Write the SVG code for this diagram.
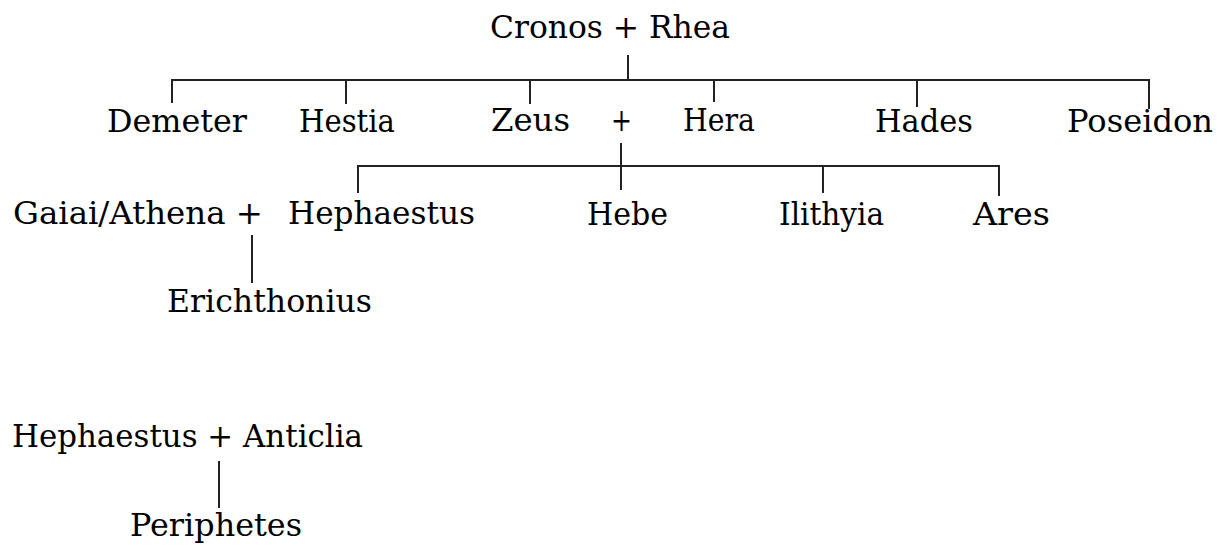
<svg xmlns="http://www.w3.org/2000/svg" width="1227" height="548" viewBox="0 0 1227 548">
<style>
text{font-family:"DejaVu Serif","Liberation Serif",serif;font-size:31px;fill:#000}
.c line{stroke:#222;stroke-width:2;stroke-linecap:butt}
</style>
<rect width="1227" height="548" fill="#fff"/>
<g class="c" id="connectors">
<line x1="628" y1="55" x2="628" y2="80"/>
<line x1="171" y1="80" x2="1150" y2="80"/>
<line x1="172" y1="80" x2="172" y2="103"/>
<line x1="346" y1="80" x2="346" y2="104"/>
<line x1="530" y1="80" x2="530" y2="104"/>
<line x1="714" y1="80" x2="714" y2="102"/>
<line x1="917" y1="80" x2="917" y2="107"/>
<line x1="1149" y1="80" x2="1149" y2="109"/>
<line x1="621" y1="143" x2="621" y2="190"/>
<line x1="357" y1="166" x2="1000" y2="166"/>
<line x1="358" y1="166" x2="358" y2="193"/>
<line x1="823" y1="166" x2="823" y2="193"/>
<line x1="999" y1="166" x2="999" y2="196"/>
<line x1="252" y1="235" x2="252" y2="283"/>
<line x1="219" y1="461" x2="219" y2="508"/>
</g>
<g id="cronos-rhea"><text x="490" y="38" textLength="240" lengthAdjust="spacingAndGlyphs">Cronos + Rhea</text></g>
<g id="demeter"><text x="107" y="132" textLength="140" lengthAdjust="spacingAndGlyphs">Demeter</text></g>
<g id="hestia"><text x="299" y="132" textLength="96" lengthAdjust="spacingAndGlyphs">Hestia</text></g>
<g id="zeus"><text x="491" y="131" textLength="79" lengthAdjust="spacingAndGlyphs">Zeus</text></g>
<g id="zeus-hera-plus"><text x="611" y="131" textLength="21" lengthAdjust="spacingAndGlyphs">+</text></g>
<g id="hera"><text x="683" y="131" textLength="72" lengthAdjust="spacingAndGlyphs">Hera</text></g>
<g id="hades"><text x="875" y="132" textLength="98" lengthAdjust="spacingAndGlyphs">Hades</text></g>
<g id="poseidon"><text x="1067" y="132" textLength="146" lengthAdjust="spacingAndGlyphs">Poseidon</text></g>
<g id="gaiai-athena"><text x="13" y="224" textLength="250" lengthAdjust="spacingAndGlyphs">Gaiai/Athena +</text></g>
<g id="hephaestus"><text x="288" y="224" textLength="187" lengthAdjust="spacingAndGlyphs">Hephaestus</text></g>
<g id="hebe"><text x="587" y="225" textLength="81" lengthAdjust="spacingAndGlyphs">Hebe</text></g>
<g id="ilithyia"><text x="779" y="225" textLength="105" lengthAdjust="spacingAndGlyphs">Ilithyia</text></g>
<g id="ares"><text x="973" y="225" textLength="77" lengthAdjust="spacingAndGlyphs">Ares</text></g>
<g id="erichthonius"><text x="167" y="312" textLength="205" lengthAdjust="spacingAndGlyphs">Erichthonius</text></g>
<g id="hephaestus-anticlia"><text x="12" y="447" textLength="351" lengthAdjust="spacingAndGlyphs">Hephaestus + Anticlia</text></g>
<g id="periphetes"><text x="130" y="536" textLength="172" lengthAdjust="spacingAndGlyphs">Periphetes</text></g>
</svg>
